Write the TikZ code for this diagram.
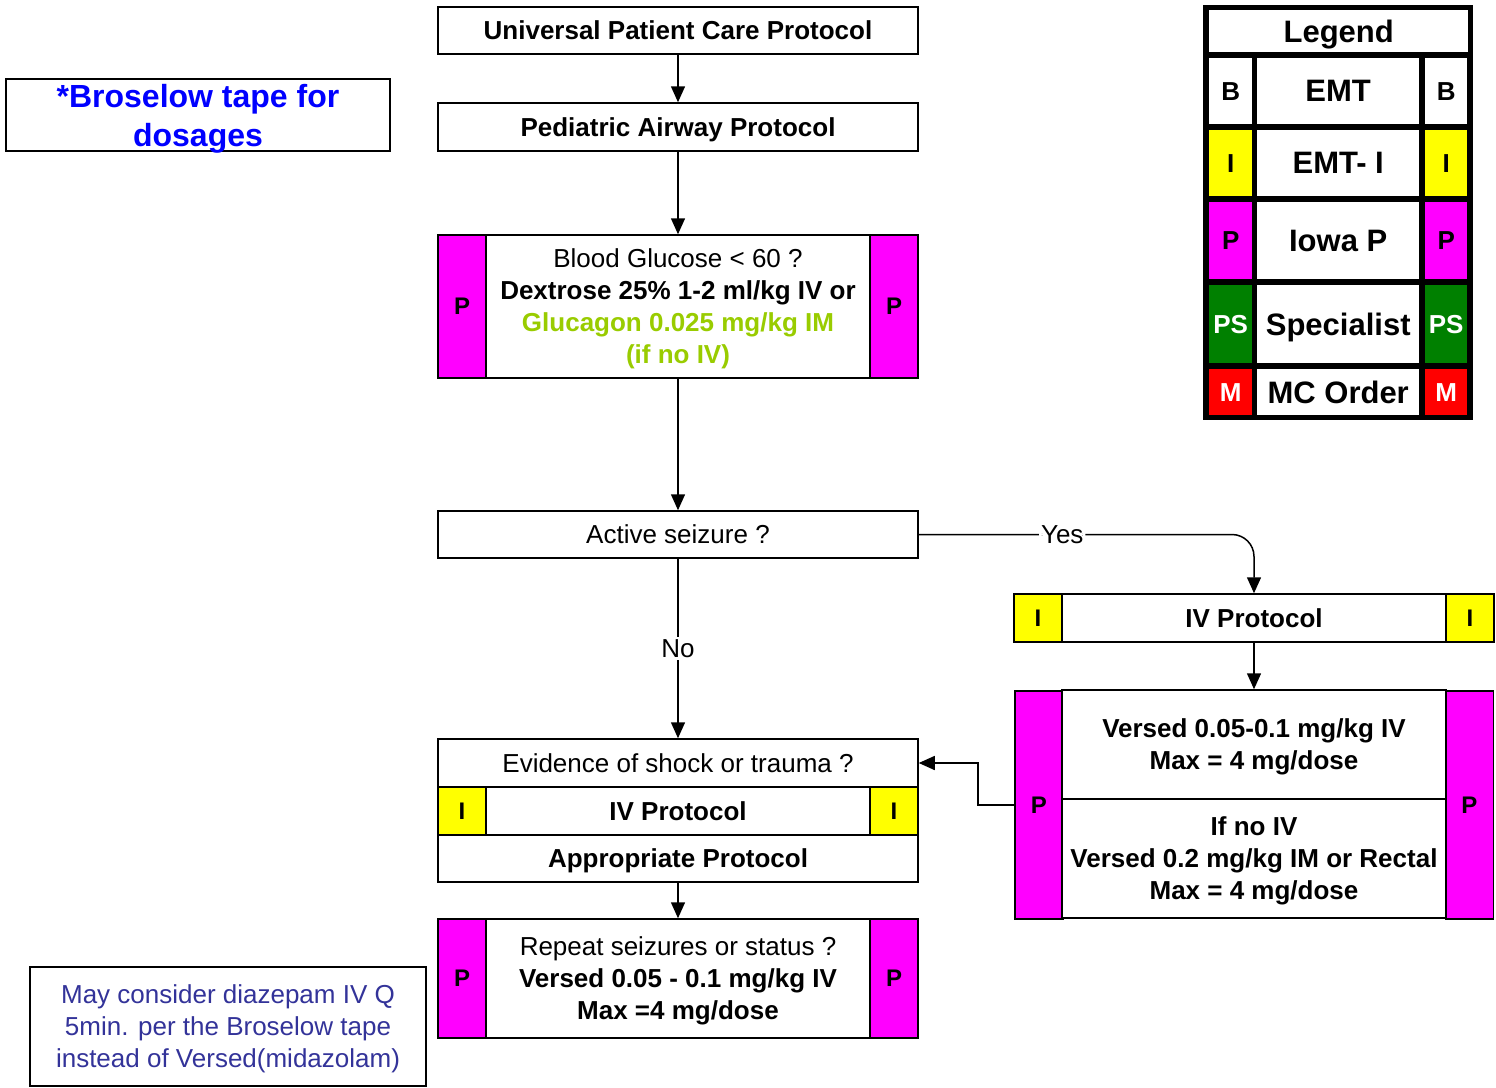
\documentclass[tikz,border=0pt]{standalone}
\usepackage{fontspec}
\setmainfont{Liberation Sans}
\usetikzlibrary{arrows.meta}
\definecolor{pmag}{RGB}{255,0,255}
\definecolor{iyel}{RGB}{255,255,0}
\definecolor{psgreen}{RGB}{0,128,0}
\definecolor{mred}{RGB}{255,0,0}
\definecolor{glucgreen}{RGB}{153,204,0}
\definecolor{noteblue}{RGB}{51,51,153}
\definecolor{tapeblue}{RGB}{0,0,255}
\newcommand\setfs[2]{\fontsize{#1pt}{#2pt}\selectfont}

\begin{document}
\begin{tikzpicture}[x=1pt,y=-1pt,
  box/.style={draw=black, line width=1.5pt, fill=white, inner sep=0pt, text depth=0pt,
    align=center, font=\setfs{26}{32}},
  bbox/.style={box, font=\setfs{26}{32}\bfseries},
  strip/.style={draw=black, line width=1.5pt, inner sep=0pt, minimum width=48pt,
    font=\setfs{24}{28}\bfseries},
  pstrip/.style={strip, fill=pmag},
  istrip/.style={strip, fill=iyel},
  lgcell/.style={fill=white, inner sep=0pt, text depth=0pt, anchor=north west, font=\setfs{31}{36}\bfseries},
  lgside/.style={inner sep=0pt, anchor=north west, font=\setfs{26}{30}\bfseries},
  arr/.style={draw=black, line width=1.5pt, -{Triangle[length=16pt,width=14pt]}},
  lbl/.style={fill=white, inner sep=2pt, font=\setfs{26}{32}}]
\useasboundingbox (0,0) rectangle (1496,1087);

% ---------- main column ----------
\node[bbox, minimum width=480pt, minimum height=47pt] (univ) at (678,30.5) {Universal Patient Care Protocol};
\node[bbox, minimum width=480pt, minimum height=48pt] (airway) at (678,127) {Pediatric Airway Protocol};

% blood glucose box
\node[box, minimum width=480pt, minimum height=143pt] (gluc) at (678,306.5) {};
\node[pstrip, minimum height=143pt, anchor=west] (glucL) at (gluc.west) {P};
\node[pstrip, minimum height=143pt, anchor=east] (glucR) at (gluc.east) {P};
\node[align=center, inner sep=0pt, font=\setfs{26}{32}] (glucT) at (678,309) {Blood Glucose {\textless} 60 ?\\
  \textbf{Dextrose 25\% 1-2 ml/kg IV or}\\
  \textcolor{glucgreen}{\textbf{Glucagon 0.025 mg/kg IM}}\\
  \textcolor{glucgreen}{\textbf{(if no IV)}}};

\node[box, minimum width=480pt, minimum height=47pt] (seiz) at (678,534.5) {Active seizure ?};

% shock / trauma group
\node[box, minimum width=480pt, minimum height=48pt] (evid) at (678,763) {Evidence of shock or trauma ?};
\node[bbox, minimum width=480pt, minimum height=48pt] (ivl) at (678,811) {IV Protocol};
\node[istrip, minimum height=48pt, anchor=west] (ivlL) at (ivl.west) {I};
\node[istrip, minimum height=48pt, anchor=east] (ivlR) at (ivl.east) {I};
\node[bbox, minimum width=480pt, minimum height=47pt] (appr) at (678,858.5) {Appropriate Protocol};

% repeat seizures box
\node[box, minimum width=480pt, minimum height=119pt] (rep) at (678,978.5) {};
\node[pstrip, minimum height=119pt, anchor=west] (repL) at (rep.west) {P};
\node[pstrip, minimum height=119pt, anchor=east] (repR) at (rep.east) {P};
\node[align=center, inner sep=0pt, font=\setfs{26}{32}] (repT) at (678,981) {Repeat seizures or status ?\\
  \textbf{Versed 0.05 - 0.1 mg/kg IV}\\
  \textbf{Max =4 mg/dose}};

% ---------- right branch ----------
\node[bbox, minimum width=480pt, minimum height=48pt] (ivr) at (1254,618) {IV Protocol};
\node[istrip, minimum height=48pt, anchor=west] (ivrL) at (ivr.west) {I};
\node[istrip, minimum height=48pt, anchor=east] (ivrR) at (ivr.east) {I};

\node[pstrip, minimum height=228pt, anchor=north west] (versL) at (1014,690) {P};
\node[pstrip, minimum height=228pt, anchor=north east] (versR) at (1494,690) {P};
\node[bbox, minimum width=384pt, minimum height=109pt] (vtop) at (1254,744.5)
  {Versed 0.05-0.1 mg/kg IV\\Max = 4 mg/dose};
\node[bbox, minimum width=384pt, minimum height=119pt] (vbot) at (1254,858.5)
  {If no IV\\Versed 0.2 mg/kg IM or Rectal\\Max = 4 mg/dose};

% ---------- notes ----------
\node[draw=black, line width=1.5pt, inner sep=0pt, text depth=0pt, minimum width=384pt, minimum height=72pt,
  align=center, text=tapeblue, font=\setfs{32}{39}\bfseries] (tape) at (198,115)
  {*Broselow tape for\\dosages};
\node[draw=black, line width=1.5pt, inner sep=0pt, text depth=0pt, minimum width=396pt, minimum height=119pt,
  align=center, text=noteblue, font=\setfs{26}{32}] (note) at (228,1026.5)
  {May consider diazepam IV Q\\5min. per the Broselow tape\\instead of Versed(midazolam)};

% ---------- legend ----------
\fill[black] (1203,5) rectangle (1473,420);
\node[lgcell, minimum width=259pt, minimum height=42pt] (lgT) at (1209,10) {Legend};
% EMT row
\node[lgside, fill=white, minimum width=43pt, minimum height=66pt] (lgBl) at (1209,58) {B};
\node[lgcell, minimum width=162pt, minimum height=66pt] (lgB) at (1257,58) {EMT};
\node[lgside, fill=white, minimum width=42pt, minimum height=66pt] (lgBr) at (1425,58) {B};
% EMT-I row
\node[lgside, fill=iyel, minimum width=43pt, minimum height=66pt] (lgIl) at (1209,130) {I};
\node[lgcell, minimum width=162pt, minimum height=66pt] (lgI) at (1257,130) {EMT- I};
\node[lgside, fill=iyel, minimum width=42pt, minimum height=66pt] (lgIr) at (1425,130) {I};
% Iowa P row
\node[lgside, fill=pmag, minimum width=43pt, minimum height=77pt] (lgPl) at (1209,202) {P};
\node[lgcell, minimum width=162pt, minimum height=77pt] (lgP) at (1257,202) {Iowa P};
\node[lgside, fill=pmag, minimum width=42pt, minimum height=77pt] (lgPr) at (1425,202) {P};
% Specialist row
\node[lgside, fill=psgreen, text=white, minimum width=43pt, minimum height=78pt] (lgSl) at (1209,285) {PS};
\node[lgcell, minimum width=162pt, minimum height=78pt] (lgS) at (1257,285) {Specialist};
\node[lgside, fill=psgreen, text=white, minimum width=42pt, minimum height=78pt] (lgSr) at (1425,285) {PS};
% MC order row
\node[lgside, fill=mred, text=white, minimum width=43pt, minimum height=46pt] (lgMl) at (1209,369) {M};
\node[lgcell, minimum width=162pt, minimum height=46pt] (lgM) at (1257,369) {MC Order};
\node[lgside, fill=mred, text=white, minimum width=42pt, minimum height=46pt] (lgMr) at (1425,369) {M};

% ---------- connectors ----------
\draw[arr] (univ.south) -- (airway.north);
\draw[arr] (airway.south) -- (gluc.north);
\draw[arr] (gluc.south) -- (seiz.north);
\draw[arr] (seiz.south) -- (evid.north) node[lbl, pos=0.5] {No};
\draw[arr] (appr.south) -- (rep.north);
\draw[arr, rounded corners=22pt] (seiz.east) -| (ivr.north) node[lbl, pos=0.214] {Yes};
\draw[arr] (ivr.south) -- (vtop.north);
\draw[arr] (versL.west) -- ++(-36,0) |- (evid.east);
\end{tikzpicture}
\end{document}
